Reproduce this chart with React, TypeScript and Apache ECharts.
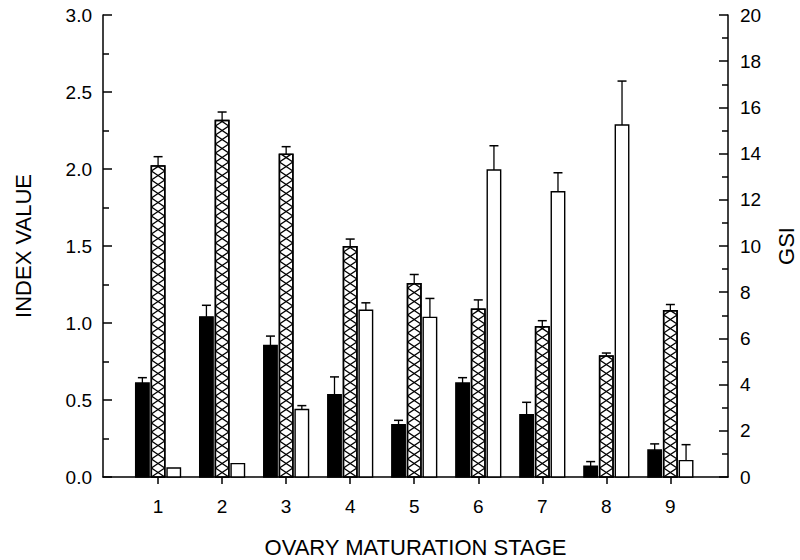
import React, { useEffect, useRef } from "react";
import * as echarts from "echarts";

// Ovary maturation stages on the x axis
const stages = [1, 2, 3, 4, 5, 6, 7, 8, 9];

// First index (solid black bars), left axis, with standard errors
const indexA = [0.61, 1.04, 0.855, 0.535, 0.34, 0.61, 0.405, 0.07, 0.175];
const indexAErr = [0.035, 0.075, 0.06, 0.115, 0.028, 0.035, 0.08, 0.03, 0.04];

// Second index (cross-hatched bars), left axis, with standard errors
const indexB = [2.02, 2.315, 2.095, 1.495, 1.255, 1.09, 0.975, 0.785, 1.08];
const indexBErr = [0.06, 0.055, 0.05, 0.05, 0.06, 0.06, 0.04, 0.02, 0.04];

// Gonadosomatic index (open bars), right axis, with standard errors
const gsi = [0.39, 0.58, 2.92, 7.22, 6.91, 13.29, 12.35, 15.24, 0.71];
const gsiErr = [0, 0, 0.17, 0.32, 0.82, 1.05, 0.82, 1.9, 0.69];

// Tick values of the two y axes
const leftTicks = { min: 0, max: 3, interval: 0.5 };
const rightTicks = { min: 0, max: 20, interval: 2 };

const FONT = "'Liberation Sans', Arial, Helvetica, sans-serif";
const BAR_W = 0.21; // bar width in stage units
const GROUP_OFFSET = 0.245; // distance of side bars from the stage centre
const HATCH_PERIOD = 9; // px height of one cross-hatch cell

type Kind = "solid" | "hatch" | "open";

function clipSegment(
  ax: number,
  ay: number,
  bx: number,
  by: number,
  yTop: number
): number[] | null {
  // keep only the part of the segment that lies below yTop (pixel coords)
  if (ay < yTop && by < yTop) return null;
  if (ay >= yTop && by >= yTop) return [ax, ay, bx, by];
  const t = (yTop - ay) / (by - ay);
  const cx = ax + t * (bx - ax);
  if (ay < yTop) return [cx, yTop, bx, by];
  return [ax, ay, cx, yTop];
}

function makeRenderer(offset: number, kind: Kind) {
  return (params: any, api: any) => {
    const x = api.value(0) + offset;
    const v = api.value(1);
    const e = api.value(2);
    const top = api.coord([x, v]);
    const base = api.coord([x, 0]);
    const w = api.size([BAR_W, 0])[0];
    const x0 = top[0] - w / 2;
    const x1 = top[0] + w / 2;
    const yTop = top[1];
    const yBase = base[1];
    const children: any[] = [];

    children.push({
      type: "rect",
      shape: { x: x0, y: yTop, width: w, height: yBase - yTop },
      style: {
        fill: kind === "solid" ? "#000" : "#fff",
        stroke: "#000",
        lineWidth: 1.4,
      },
    });

    if (kind === "hatch") {
      const cells = Math.ceil((yBase - yTop) / HATCH_PERIOD);
      for (let i = 0; i < cells; i++) {
        const yb = yBase - i * HATCH_PERIOD;
        const yt = yb - HATCH_PERIOD;
        const segs = [
          clipSegment(x0, yb, x1, yt, yTop),
          clipSegment(x1, yb, x0, yt, yTop),
        ];
        segs.forEach((s) => {
          if (!s) return;
          children.push({
            type: "line",
            shape: { x1: s[0], y1: s[1], x2: s[2], y2: s[3] },
            style: { stroke: "#000", lineWidth: 1.4 },
          });
        });
      }
      // redraw the outline on top of the hatching
      children.push({
        type: "rect",
        shape: { x: x0, y: yTop, width: w, height: yBase - yTop },
        style: { fill: "none", stroke: "#000", lineWidth: 1.5 },
      });
    }

    if (e > 0) {
      const errTop = api.coord([x, v + e]);
      children.push({
        type: "line",
        shape: { x1: top[0], y1: yTop, x2: top[0], y2: errTop[1] },
        style: { stroke: "#000", lineWidth: 1.3 },
      });
      children.push({
        type: "line",
        shape: { x1: top[0] - 4.5, y1: errTop[1], x2: top[0] + 4.5, y2: errTop[1] },
        style: { stroke: "#000", lineWidth: 1.5 },
      });
    }

    return { type: "group", children };
  };
}

const axisLineStyle = { color: "#000", width: 1.5 };
const tickLabelStyle = { color: "#000", fontSize: 19, fontFamily: FONT };
const nameStyle = { color: "#000", fontSize: 22, fontFamily: FONT };

export default function App() {
  const ref = useRef<HTMLDivElement>(null);

  useEffect(() => {
    if (!ref.current) return;
    const chart = echarts.init(ref.current, null, { renderer: "svg" });

    const option: any = {
      animation: false,
      backgroundColor: "#fff",
      grid: {
        left: 103,
        right: 72,
        top: 15,
        bottom: 83,
        containLabel: false,
        outerBoundsMode: "none",
      },
      xAxis: {
        type: "value",
        min: 0.14,
        max: 9.9,
        splitLine: { show: false },
        axisLine: { show: true, onZero: false, lineStyle: axisLineStyle },
        axisTick: {
          show: true,
          inside: false,
          length: 7,
          customValues: stages,
          lineStyle: axisLineStyle,
        },
        axisLabel: { ...tickLabelStyle, customValues: stages, margin: 20 },
        name: "OVARY MATURATION STAGE",
        nameLocation: "middle",
        nameGap: 59,
        nameTextStyle: nameStyle,
      },
      yAxis: [
        {
          type: "value",
          position: "left",
          min: leftTicks.min,
          max: leftTicks.max,
          interval: leftTicks.interval,
          splitLine: { show: false },
          axisLine: { show: true, onZero: false, lineStyle: axisLineStyle },
          axisTick: { show: true, inside: true, length: 9, lineStyle: axisLineStyle },
          minorTick: { show: true, splitNumber: 2, length: 6, lineStyle: axisLineStyle },
          axisLabel: {
            ...tickLabelStyle,
            margin: 11,
            formatter: (v: number) => v.toFixed(1),
          },
          name: "INDEX VALUE",
          nameLocation: "middle",
          nameRotate: 90,
          nameGap: 69,
          nameTextStyle: nameStyle,
        },
        {
          type: "value",
          position: "right",
          min: rightTicks.min,
          max: rightTicks.max,
          interval: rightTicks.interval,
          splitLine: { show: false },
          axisLine: { show: true, onZero: false, lineStyle: axisLineStyle },
          axisTick: { show: true, inside: true, length: 9, lineStyle: axisLineStyle },
          minorTick: { show: true, splitNumber: 2, length: 6, lineStyle: axisLineStyle },
          axisLabel: { ...tickLabelStyle, margin: 12 },
          name: "GSI",
          nameLocation: "middle",
          nameRotate: 90,
          nameGap: 47,
          nameTextStyle: nameStyle,
        },
      ],
      series: [
        {
          type: "custom",
          name: "index A",
          xAxisIndex: 0,
          yAxisIndex: 0,
          clip: false,
          renderItem: makeRenderer(-GROUP_OFFSET, "solid"),
          encode: { x: 0, y: 1 },
          data: stages.map((s, i) => [s, indexA[i], indexAErr[i]]),
        },
        {
          type: "custom",
          name: "index B",
          xAxisIndex: 0,
          yAxisIndex: 0,
          clip: false,
          renderItem: makeRenderer(0, "hatch"),
          encode: { x: 0, y: 1 },
          data: stages.map((s, i) => [s, indexB[i], indexBErr[i]]),
        },
        {
          type: "custom",
          name: "GSI",
          xAxisIndex: 0,
          yAxisIndex: 1,
          clip: false,
          renderItem: makeRenderer(GROUP_OFFSET, "open"),
          encode: { x: 0, y: 1 },
          data: stages.map((s, i) => [s, gsi[i], gsiErr[i]]),
        },
      ],
    };

    chart.setOption(option);
    return () => chart.dispose();
  }, []);

  return (
    <div
      ref={ref}
      style={{
        position: "fixed",
        left: 0,
        top: 0,
        width: 800,
        height: 560,
        background: "#fff",
      }}
    />
  );
}
